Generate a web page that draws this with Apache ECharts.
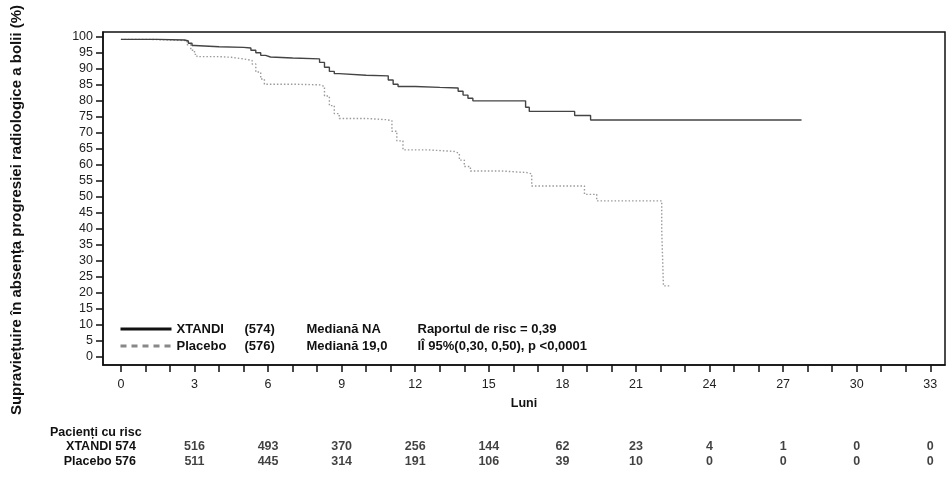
<!DOCTYPE html>
<html>
<head>
<meta charset="utf-8">
<script src="https://cdn.jsdelivr.net/npm/echarts@6/dist/echarts.min.js"></script>
<style>
  html, body { margin: 0; padding: 0; background: #fff; }
  #chart { width: 952px; height: 477px; }
</style>
</head>
<body>
<div id="chart"></div>
<script>
// curbe Kaplan-Meier (luni, %)
const xtandiTime = [0, 1.5, 2.6, 2.75, 2.9, 3.0, 4.0, 5.0, 5.3, 5.5, 5.7, 5.9, 6.1, 7.0, 8.1, 8.3, 8.5, 8.7, 8.9, 10.0, 10.9, 11.1, 11.3, 12.0, 13.0, 13.75, 13.95, 14.15, 14.35, 16.5, 16.65, 18.5, 19.15, 27.75];
const xtandiSurv = [99.2, 99.0, 98.7, 98.0, 97.3, 96.9, 96.7, 96.5, 95.8, 95.0, 94.2, 93.7, 93.4, 93.1, 92.0, 90.5, 89.2, 88.5, 88.0, 87.8, 86.5, 85.2, 84.5, 84.2, 84.0, 83.0, 81.8, 80.8, 80.0, 78.0, 76.7, 75.4, 74.0, 74.0];
const placeboTime = [0, 1.2, 2.7, 2.85, 3.0, 3.1, 4.0, 4.5, 5.0, 5.35, 5.5, 5.7, 5.85, 7.0, 8.1, 8.3, 8.5, 8.7, 8.9, 10.0, 10.85, 11.05, 11.25, 11.5, 12.5, 13.6, 13.8, 14.0, 14.25, 15.5, 16.55, 16.75, 18.9, 19.4, 22.05, 22.12, 22.4];
const placeboSurv = [99.2, 98.8, 97.5, 95.8, 94.5, 93.8, 93.6, 93.1, 92.6, 91.5, 89.0, 86.8, 85.2, 85.0, 84.5, 81.5, 78.5, 76.0, 74.5, 74.1, 73.8, 70.5, 67.5, 64.7, 64.2, 63.6, 61.5, 59.5, 58.1, 57.6, 57.2, 53.4, 50.8, 48.75, 39.9, 22.2, 22.2];

// axe
const xTicks = [0, 1, 2, 3, 4, 5, 6, 7, 8, 9, 10, 11, 12, 13, 14, 15, 16, 17, 18, 19, 20, 21, 22, 23, 24, 25, 26, 27, 28, 29, 30, 31, 32, 33];
const xLabels = [0, 3, 6, 9, 12, 15, 18, 21, 24, 27, 30, 33];
const yLabels = [0, 5, 10, 15, 20, 25, 30, 35, 40, 45, 50, 55, 60, 65, 70, 75, 80, 85, 90, 95, 100];

// pacienti cu risc
const riskTimes = [3, 6, 9, 12, 15, 18, 21, 24, 27, 30, 33];
const riskXtandi = [516, 493, 370, 256, 144, 62, 23, 4, 1, 0, 0];
const riskPlacebo = [511, 445, 314, 191, 106, 39, 10, 0, 0, 0, 0];
const armNames = ['XTANDI', 'Placebo'];
const armN = [574, 576];

// legenda
const legendMedian = ['Mediană NA', 'Mediană 19,0'];
const legendStats = ['Raportul de risc = 0,39', 'IÎ 95%(0,30, 0,50), p <0,0001'];

const FONT = '"Liberation Sans", Arial, sans-serif';
const NARROW = '"Liberation Sans Narrow", "Liberation Sans", Arial, sans-serif';

const chart = echarts.init(document.getElementById('chart'));

const xtandiData = xtandiTime.map((t, i) => [t, xtandiSurv[i]]);
const placeboData = placeboTime.map((t, i) => [t, placeboSurv[i]]);
const riskData = (vals, arm) => riskTimes.map((t, i) => [t, arm, vals[i]]);

chart.setOption({
  animation: false,
  textStyle: { fontFamily: FONT },
  grid: [
    { left: 103, right: 7, top: 32, bottom: 112, show: true, borderColor: '#111', borderWidth: 1.5, backgroundColor: '#fff' },
    { left: 103, right: 7, top: 439, height: 30 }
  ],
  legend: {
    orient: 'vertical',
    left: 114,
    top: 317,
    itemWidth: 51,
    itemHeight: 10,
    itemGap: 3,
    selectedMode: false,
    data: [
      { name: armNames[0], itemStyle: { opacity: 0 }, lineStyle: { color: '#111', width: 3, type: 'solid' } },
      { name: armNames[1], itemStyle: { opacity: 0 }, lineStyle: { color: '#888', width: 3, type: [6, 5] } }
    ],
    formatter: name => {
      const i = armNames.indexOf(name);
      return `{a|${name}}{b|(${armN[i]})}{c|${legendMedian[i]}}{d|${legendStats[i]}}`;
    },
    textStyle: {
      fontFamily: FONT,
      fontWeight: 'bold',
      fontSize: 13,
      color: '#111',
      lineHeight: 14,
      rich: {
        a: { width: 68, fontWeight: 'bold', fontSize: 13, color: '#111', fontFamily: FONT },
        b: { width: 62, fontWeight: 'bold', fontSize: 13, color: '#111', fontFamily: FONT },
        c: { width: 111, fontWeight: 'bold', fontSize: 13, color: '#111', fontFamily: FONT },
        d: { fontWeight: 'bold', fontSize: 13, color: '#111', fontFamily: FONT }
      }
    }
  },
  xAxis: [
    {
      type: 'value', gridIndex: 0, min: -0.73, max: 33.6,
      name: 'Luni', nameLocation: 'middle', nameGap: 32,
      nameTextStyle: { fontWeight: 'bold', fontSize: 12.5, color: '#111' },
      axisLine: { show: true, onZero: false, lineStyle: { color: '#111', width: 1.5 } },
      axisTick: { show: true, length: 7, customValues: xTicks, lineStyle: { color: '#111', width: 1.5 } },
      axisLabel: { customValues: xLabels, margin: 13, fontSize: 12.5, color: '#222' },
      splitLine: { show: false }
    },
    {
      type: 'value', gridIndex: 1, min: -0.73, max: 33.6, show: false
    }
  ],
  yAxis: [
    {
      type: 'value', gridIndex: 0, min: -2.5, max: 101.5,
      axisLine: { show: true, onZero: false, lineStyle: { color: '#111', width: 1.5 } },
      axisTick: { show: true, length: 7, customValues: yLabels, lineStyle: { color: '#111', width: 1.5 } },
      axisLabel: { customValues: yLabels, margin: 10, fontSize: 12.5, color: '#222' },
      splitLine: { show: false }
    },
    {
      type: 'category', gridIndex: 1, data: armNames, inverse: true, show: false
    }
  ],
  series: [
    {
      name: armNames[0], type: 'line', step: 'end', symbol: 'none',
      xAxisIndex: 0, yAxisIndex: 0,
      lineStyle: { color: '#444', width: 1.4 },
      itemStyle: { color: '#444' },
      data: xtandiData, z: 3
    },
    {
      name: armNames[1], type: 'line', step: 'end', symbol: 'none',
      xAxisIndex: 0, yAxisIndex: 0,
      lineStyle: { color: '#9a9a9a', width: 1.4, type: [1.5, 2] },
      itemStyle: { color: '#9a9a9a' },
      data: placeboData, z: 2
    },
    {
      type: 'scatter', xAxisIndex: 1, yAxisIndex: 1, symbolSize: 0, silent: true,
      label: { show: true, position: 'inside', formatter: p => p.value[2], fontFamily: NARROW, fontWeight: 'bold', fontSize: 12.5, color: '#111' },
      data: riskData(riskXtandi, armNames[0])
    },
    {
      type: 'scatter', xAxisIndex: 1, yAxisIndex: 1, symbolSize: 0, silent: true,
      label: { show: true, position: 'inside', formatter: p => p.value[2], fontFamily: NARROW, fontWeight: 'bold', fontSize: 12.5, color: '#111' },
      data: riskData(riskPlacebo, armNames[1])
    }
  ],
  graphic: [
    {
      type: 'text', x: 17, y: 210, rotation: Math.PI / 2,
      style: {
        text: 'Supraviețuire în absența progresiei radiologice a bolii (%)',
        font: 'bold 15px ' + FONT, fill: '#111', align: 'center', verticalAlign: 'middle'
      }
    },
    {
      type: 'text', left: 50, top: 426,
      style: { text: 'Pacienți cu risc', font: 'bold 12.5px ' + NARROW, fill: '#111' }
    },
    {
      type: 'text', right: 952 - 136, top: 440,
      style: { text: armNames[0] + ' ' + armN[0], font: 'bold 12.5px ' + NARROW, fill: '#111', align: 'right' }
    },
    {
      type: 'text', right: 952 - 136, top: 455,
      style: { text: armNames[1] + ' ' + armN[1], font: 'bold 12.5px ' + NARROW, fill: '#111', align: 'right' }
    }
  ]
});
</script>
</body>
</html>
